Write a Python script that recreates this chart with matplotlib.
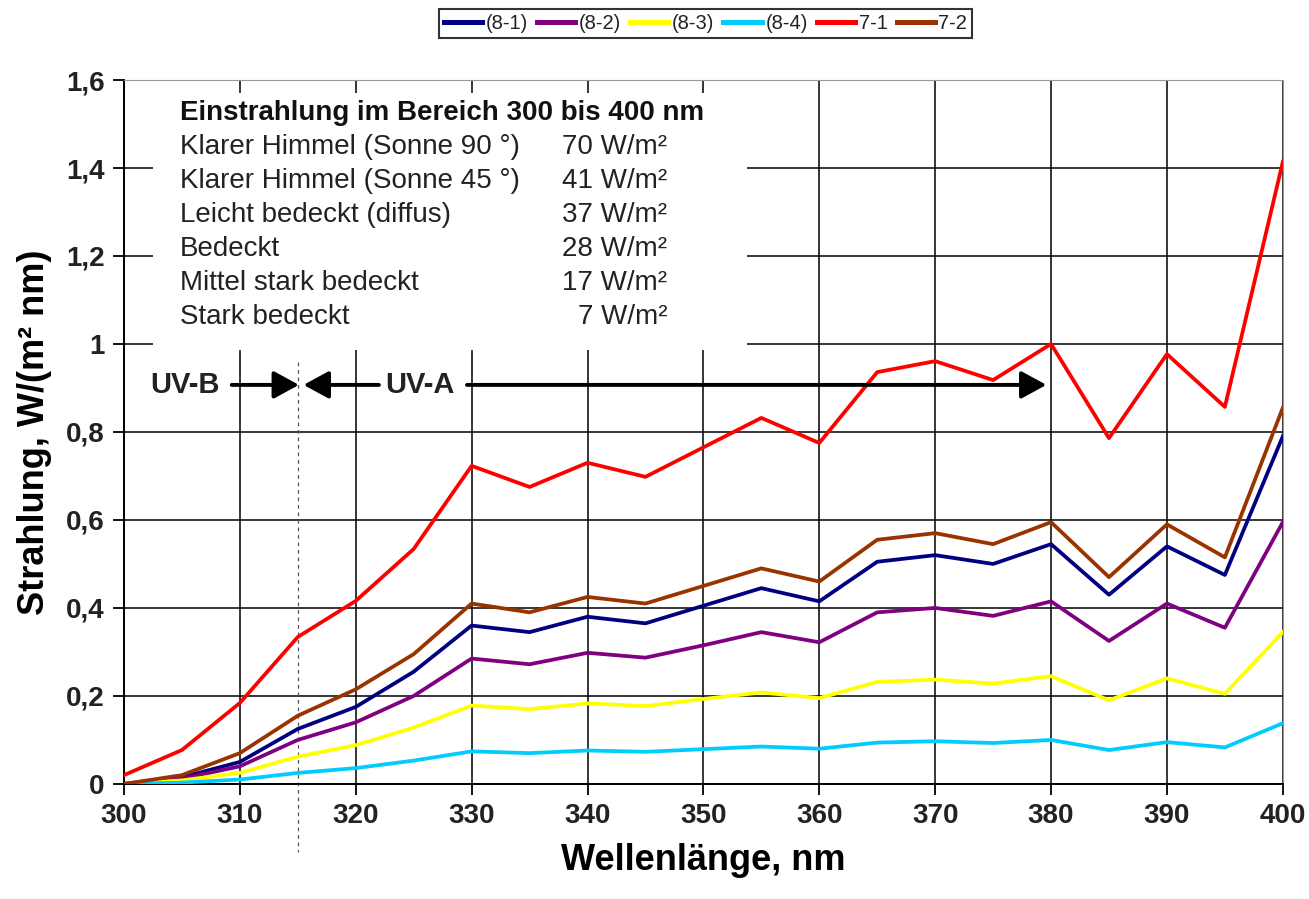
import numpy as np
import matplotlib
matplotlib.use("Agg")
import matplotlib.pyplot as plt
from matplotlib.patches import Rectangle
from matplotlib.ticker import FuncFormatter, MultipleLocator

plt.rcParams['font.family'] = ['Liberation Sans', 'DejaVu Sans']

# Wellenlaenge in nm
wavelength = [300, 305, 310, 315, 320, 325, 330, 335, 340, 345, 350,
              355, 360, 365, 370, 375, 380, 385, 390, 395, 400]

# Strahlung, W/(m2 nm)
s8_1 = [0.0, 0.015, 0.05, 0.125, 0.175, 0.255, 0.36, 0.345, 0.38, 0.365, 0.405,
        0.445, 0.415, 0.505, 0.52, 0.5, 0.545, 0.43, 0.54, 0.475, 0.79]
s8_2 = [0.0, 0.012, 0.04, 0.10, 0.14, 0.20, 0.285, 0.272, 0.298, 0.287, 0.315,
        0.345, 0.322, 0.39, 0.40, 0.382, 0.415, 0.325, 0.41, 0.355, 0.595]
s8_3 = [0.0, 0.008, 0.025, 0.062, 0.088, 0.128, 0.178, 0.17, 0.183, 0.177, 0.193,
        0.208, 0.195, 0.232, 0.237, 0.228, 0.245, 0.19, 0.24, 0.205, 0.345]
s8_4 = [0.0, 0.003, 0.01, 0.025, 0.036, 0.053, 0.074, 0.07, 0.076, 0.073, 0.079,
        0.085, 0.08, 0.094, 0.097, 0.093, 0.1, 0.077, 0.095, 0.083, 0.138]
s7_1 = [0.02, 0.077, 0.184, 0.334, 0.416, 0.534, 0.723, 0.675, 0.73, 0.698, 0.765,
        0.832, 0.775, 0.936, 0.961, 0.918, 1.0, 0.786, 0.977, 0.857, 1.414]
s7_2 = [0.0, 0.02, 0.07, 0.155, 0.215, 0.295, 0.41, 0.39, 0.425, 0.41, 0.45,
        0.49, 0.46, 0.555, 0.57, 0.545, 0.595, 0.47, 0.59, 0.515, 0.855]

series = [s8_1, s8_2, s8_3, s8_4, s7_1, s7_2]
labels = ['(8-1)', '(8-2)', '(8-3)', '(8-4)', '7-1', '7-2']
colors = ['#000080', '#800080', '#FFFF00', '#00CCFF', '#FF0000', '#993300']

box_rows = ['Klarer Himmel (Sonne 90 °)', 'Klarer Himmel (Sonne 45 °)',
            'Leicht bedeckt (diffus)', 'Bedeckt', 'Mittel stark bedeckt', 'Stark bedeckt']
box_vals = ['70 W/m²', '41 W/m²', '37 W/m²', '28 W/m²', '17 W/m²', '7 W/m²']

fig = plt.figure(figsize=(13.09, 8.99), dpi=100)
ax = fig.add_axes([0.0947, 0.128, 0.8853, 0.783])

for ys, lab, c in zip(series, labels, colors):
    ax.plot(wavelength, ys, color=c, lw=2.7, label=lab, zorder=3)

ax.set_xlim(300, 400)
ax.set_ylim(0, 1.6)
ax.xaxis.set_major_locator(MultipleLocator(10))
ax.yaxis.set_major_locator(MultipleLocator(0.2))
ax.yaxis.set_major_formatter(FuncFormatter(
    lambda v, p: '0' if abs(v) < 1e-9 else ('%g' % round(v, 1)).replace('.', ',')))
ax.grid(True, color='black', lw=1.1)
ax.set_axisbelow(True)

for side in ['top', 'right']:
    ax.spines[side].set_color('#999999')
for side in ['left', 'bottom']:
    ax.spines[side].set_color('black')
    ax.spines[side].set_linewidth(1.4)

ax.tick_params(axis='both', length=8, width=1.3, labelsize=20, pad=6)
for t in ax.get_xticklabels() + ax.get_yticklabels():
    t.set_fontweight('bold')
    t.set_color('#222222')

ax.set_xlabel('Wellenlänge, nm', fontsize=26, fontweight='bold', labelpad=10)
ax.set_ylabel('Strahlung, W/(m² nm)', fontsize=26, fontweight='bold', labelpad=10)

# weisser Kasten mit Einstrahlungswerten
ax.add_patch(Rectangle((302.5, 0.986), 51.3, 0.584, facecolor='white',
                       edgecolor='none', zorder=1))
ax.text(304.8, 1.525, 'Einstrahlung im Bereich 300 bis 400 nm', fontsize=20,
        fontweight='bold', va='center', ha='left', color='#111111', zorder=4)
for i, (r, v) in enumerate(zip(box_rows, box_vals)):
    yy = 1.448 - i * 0.0775
    ax.text(304.8, yy, r, fontsize=20, va='center', ha='left', color='#222222', zorder=4)
    ax.text(346.9, yy, v, fontsize=20, va='center', ha='right', color='#222222', zorder=4)

# UV-B / UV-A Grenze
ax.plot([315, 315], [0.96, -0.155], color='#555555', lw=0.9, ls=(0, (3, 3)),
        clip_on=False, zorder=2)
ax.text(305.3, 0.907, 'UV-B', fontsize=21, fontweight='bold', ha='center',
        va='center', color='#222222', zorder=4)
ax.text(325.5, 0.907, 'UV-A', fontsize=21, fontweight='bold', ha='center',
        va='center', color='#222222', zorder=4)
arr = dict(arrowstyle='-|>,head_length=0.55,head_width=0.3', mutation_scale=28,
           lw=2.8, color='black', shrinkA=0, shrinkB=0)
ax.annotate('', xy=(315.1, 0.907), xytext=(309.3, 0.907), arrowprops=arr, zorder=4)
ax.annotate('', xy=(315.5, 0.907), xytext=(322.0, 0.907), arrowprops=arr, zorder=4)
ax.annotate('', xy=(379.6, 0.907), xytext=(329.6, 0.907), arrowprops=arr, zorder=4)

leg = fig.legend(loc='center', bbox_to_anchor=(0.539, 0.974), ncol=6, fontsize=14.5,
                 frameon=True, fancybox=False, edgecolor='black', handlelength=1.9,
                 handletextpad=0.18, columnspacing=0.45, borderpad=0.25)
leg.get_frame().set_linewidth(1.5)
for line in leg.get_lines():
    line.set_linewidth(3.6)
for t in leg.get_texts():
    t.set_color('#222222')

fig.savefig('out.png', dpi=100)
